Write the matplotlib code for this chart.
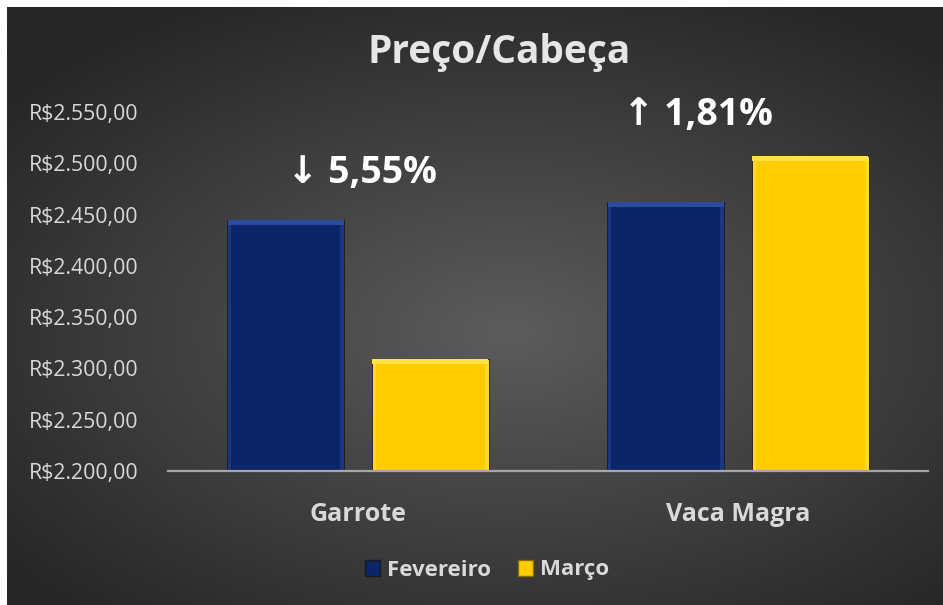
import numpy as np
import matplotlib.pyplot as plt
from matplotlib.patches import Patch, Rectangle

categorias = ["Garrote", "Vaca Magra"]
fevereiro = [2445, 2462]
marco = [2309, 2507]
series = ["Fevereiro", "Março"]
variacao = ["\u2193 5,55%", "\u2191 1,81%"]
yticks = [2200, 2250, 2300, 2350, 2400, 2450, 2500, 2550]

navy = "#0c2468"
navy_top = "#2b4c9e"
navy_side = "#1b3680"
gold = "#ffcc00"
gold_top = "#ffe14a"
gold_side = "#ffd633"
txt = "#d9d9d9"

plt.rcParams['font.family'] = ['Open Sans', 'DejaVu Sans']

fig = plt.figure(figsize=(9.43, 6.05), dpi=100, facecolor="#2a2a2a")

# fundo com gradiente radial
bg = fig.add_axes([0, 0, 1, 1])
gx, gy = np.meshgrid(np.linspace(-1, 1, 400), np.linspace(-1, 1, 260))
r = np.sqrt(((gx - 0.08) / 1.1) ** 2 + ((gy - 0.1) / 1.0) ** 2)
r = np.clip(r / 1.25, 0, 1)
c0 = np.array([0x5c, 0x5c, 0x5c]) / 255
c1 = np.array([0x26, 0x26, 0x26]) / 255
img = c0[None, None, :] * (1 - r[..., None]) + c1[None, None, :] * r[..., None]
bg.imshow(img, aspect="auto", extent=[0, 1, 0, 1], interpolation="bilinear")
bg.set_xlim(0, 1)
bg.set_ylim(0, 1)
bg.set_axis_off()
# moldura branca (esquerda e topo)
fig.patches.append(Rectangle((0, 0), 7 / 943, 1, transform=fig.transFigure,
                             facecolor="white", edgecolor="none", zorder=5))
fig.patches.append(Rectangle((0, 1 - 7 / 605), 1, 7 / 605, transform=fig.transFigure,
                             facecolor="white", edgecolor="none", zorder=5))

ax = fig.add_axes([168 / 943, 1 - 471 / 605, 760 / 943, (471 - 112) / 605])
ax.patch.set_alpha(0)

x = np.arange(len(categorias))
w = 0.308
off = 0.19
base = yticks[0]
bevel = 5

for vals, dx, c, ctop, cside in [(fevereiro, -off, navy, navy_top, navy_side),
                                  (marco, off, gold, gold_top, gold_side)]:
    heights = [v - base for v in vals]
    ax.bar(x + dx, heights, w, bottom=base, color=cside, edgecolor="#1a1a1a",
           linewidth=0.6, zorder=2)
    ax.bar(x + dx, heights, w * 0.93, bottom=base, color=c, linewidth=0, zorder=2.5)
    ax.bar(x + dx, [bevel] * len(vals), w * 0.99,
           bottom=[v - bevel for v in vals], color=ctop, linewidth=0, zorder=3)

ax.set_xlim(-0.5, 1.5)
ax.set_ylim(yticks[0], yticks[-1])
ax.set_yticks(yticks)
ax.set_yticklabels(["R$" + f"{v:,.2f}".replace(",", "X").replace(".", ",").replace("X", ".")
                    for v in yticks])
ax.set_xticks(x)
ax.set_xticklabels(categorias, fontweight="bold", fontsize=18)
ax.tick_params(axis="y", length=0, pad=21, labelsize=15.3, colors=txt)
ax.tick_params(axis="x", length=0, pad=22, colors=txt)
for s in ["top", "right", "left"]:
    ax.spines[s].set_visible(False)
ax.spines["bottom"].set_color("#a6a6a6")
ax.spines["bottom"].set_linewidth(1.6)
ax.spines["bottom"].set_zorder(4)

ax.text(0.01, 2491, variacao[0], ha="center", va="center", color="white",
        fontsize=27, fontweight="bold")
ax.text(0.895, 2547, variacao[1], ha="center", va="center", color="white",
        fontsize=27, fontweight="bold")

fig.text(499 / 943, 1 - 52 / 605, "Preço/Cabeça", ha="center", va="center",
         color="#e6e6e6", fontsize=28, fontweight="bold")

handles = [Patch(facecolor=navy, edgecolor="#1a1a1a", label=series[0]),
           Patch(facecolor=gold, edgecolor="#8a6d00", label=series[1])]
leg = fig.legend(handles=handles, loc="center", bbox_to_anchor=(487 / 943, 1 - 570 / 605),
                 ncol=2, frameon=False, handlelength=0.7, handleheight=0.7,
                 handletextpad=0.3, columnspacing=1.2,
                 prop={"weight": "bold", "size": 16})
for t in leg.get_texts():
    t.set_color(txt)

fig.savefig("out.png", dpi=100, facecolor=fig.get_facecolor())
